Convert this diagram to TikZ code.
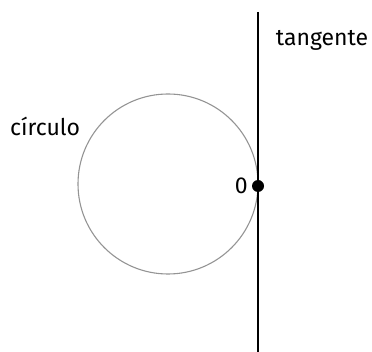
\documentclass[tikz,border=0pt]{standalone}
\usepackage{fontspec}
\setmainfont{Fira Sans}
\begin{document}
\begin{tikzpicture}[x=1pt,y=-1pt,font=\fontsize{23}{27}\selectfont]
\useasboundingbox (0,0) rectangle (372,352);
\node[circle, draw=black!42, line width=1.1pt, minimum size=180pt, inner sep=0pt] (circ) at (168,184) {};
\coordinate (top) at (258,12);
\coordinate (bot) at (258,352);
\draw[line width=1.2pt] (top) -- (bot);
\node[fill, circle, inner sep=0pt, minimum size=12pt] (o) at (258,186) {};
\node[left, inner sep=4pt] (olabel) at (o.west) {0};
\node (clabel) at (45,126) {círculo};
\node (tlabel) at (322,40) {tangente};
\end{tikzpicture}
\end{document}
